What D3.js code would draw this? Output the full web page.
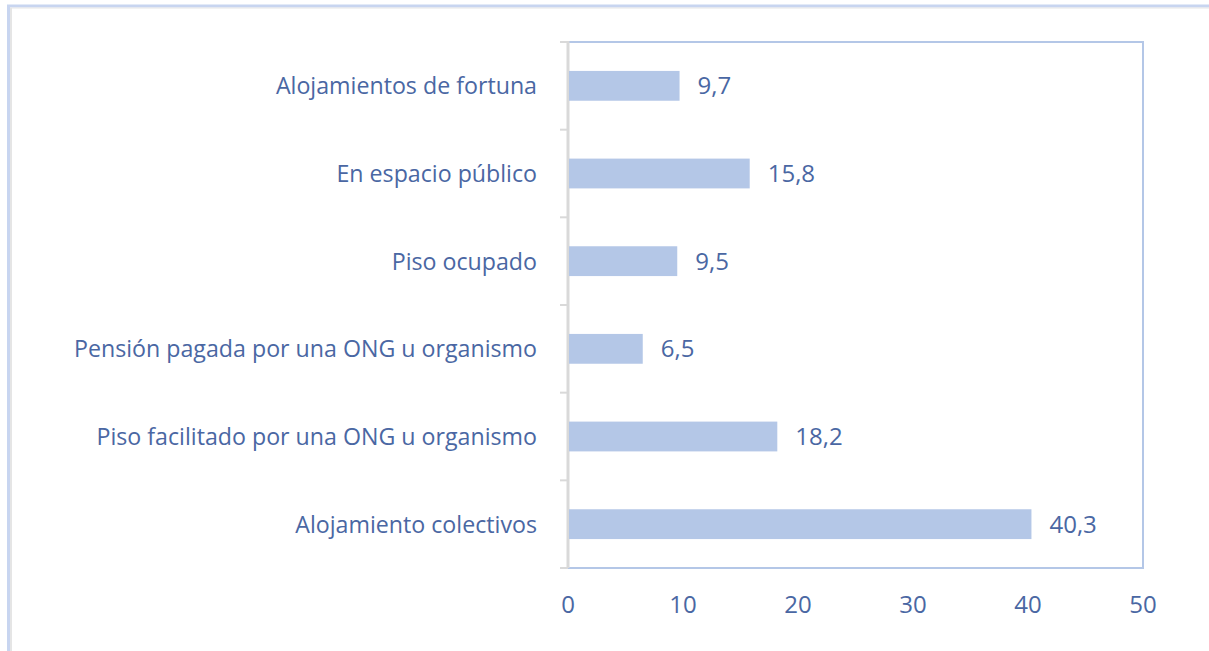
<!DOCTYPE html>
<html>
<head>
<meta charset="utf-8">
<script src="https://cdn.jsdelivr.net/npm/d3@7"></script>
<style>
	body { margin: 0; background: #fff; }
	text { font-family: "Open Sans", sans-serif; fill: #4a67a3; }
</style>
</head>
<body>
<div id="chart"></div>
<script>
	// data, top to bottom
	var categories = ["Alojamientos de fortuna", "En espacio público", "Piso ocupado",
		"Pensión pagada por una ONG u organismo", "Piso facilitado por una ONG u organismo",
		"Alojamiento colectivos"];
	var values = [9.7, 15.8, 9.5, 6.5, 18.2, 40.3];
	var xTicks = [0, 10, 20, 30, 40, 50];

	var width = 1209;
	var height = 651;
	var margin = {top: 42, right: 66, bottom: 83, left: 568};
	var figw = width - margin.left - margin.right;
	var figh = height - margin.top - margin.bottom;

	var barColor = "#b4c7e7";
	var catSize = 23.2;
	var numSize = 24;

	var svg = d3.select("#chart").append("svg")
		.attr("width", width)
		.attr("height", height);

	// outer frame (top and left edges only)
	svg.append("line")
		.attr("x1", 7).attr("y1", 6).attr("x2", width).attr("y2", 6)
		.style("stroke", "#c8d5f0").style("stroke-width", 3);
	svg.append("line")
		.attr("x1", 8.5).attr("y1", 5).attr("x2", 8.5).attr("y2", height)
		.style("stroke", "#c8d5f0").style("stroke-width", 3);
	svg.append("line")
		.attr("x1", 11).attr("y1", 8).attr("x2", 11).attr("y2", height)
		.style("stroke", "#dcdcdc").style("stroke-width", 1.5);
	svg.append("line")
		.attr("x1", 10).attr("y1", 8).attr("x2", width).attr("y2", 8)
		.style("stroke", "#e6e6e6").style("stroke-width", 1);

	var x = d3.scaleLinear()
		.domain([0, 50])
		.range([margin.left, margin.left + figw]);
	var y = d3.scaleBand()
		.domain(categories)
		.range([margin.top, margin.top + figh])
		.paddingInner(0.66)
		.paddingOuter(0.33);

	// plot border
	svg.append("rect")
		.attr("x", margin.left)
		.attr("y", margin.top)
		.attr("width", figw)
		.attr("height", figh)
		.style("fill", "none")
		.style("stroke", barColor)
		.style("stroke-width", 2);

	// category tick marks on the left axis
	var step = figh / categories.length;
	for(var i = 0; i <= categories.length; i++) {
		svg.append("line")
			.attr("x1", margin.left - 8)
			.attr("x2", margin.left)
			.attr("y1", margin.top + i*step)
			.attr("y2", margin.top + i*step)
			.style("stroke", "#d9d9d9")
			.style("stroke-width", 2);
	}
	svg.append("line")
		.attr("x1", margin.left).attr("x2", margin.left)
		.attr("y1", margin.top - 1).attr("y2", margin.top + figh)
		.style("stroke", "#d9d9d9")
		.style("stroke-width", 3);

	svg.selectAll(".bar")
		.data(values)
		.enter().append("rect")
		.attr("class", "bar")
		.attr("x", x(0) + 1)
		.attr("y", function(d, i) { return y(categories[i]); })
		.attr("width", function(d) { return x(d) - x(0) - 1; })
		.attr("height", y.bandwidth())
		.style("fill", barColor);

	svg.selectAll(".val")
		.data(values)
		.enter().append("text")
		.attr("class", "val")
		.attr("x", function(d) { return x(d) + 18; })
		.attr("y", function(d, i) { return y(categories[i]) + y.bandwidth()/2; })
		.attr("dy", "0.36em")
		.style("font-size", numSize + "px")
		.text(function(d) { return d3.format(".1f")(d).replace(".", ","); });

	svg.selectAll(".cat")
		.data(categories)
		.enter().append("text")
		.attr("class", "cat")
		.attr("x", 537)
		.attr("y", function(d) { return y(d) + y.bandwidth()/2; })
		.attr("dy", "0.36em")
		.style("text-anchor", "end")
		.style("font-size", catSize + "px")
		.text(function(d) { return d; });

	svg.selectAll(".xtick")
		.data(xTicks)
		.enter().append("text")
		.attr("class", "xtick")
		.attr("x", function(d) { return x(d); })
		.attr("y", margin.top + figh + 36)
		.attr("dy", "0.36em")
		.style("text-anchor", "middle")
		.style("font-size", numSize + "px")
		.text(function(d) { return d; });
</script>
</body>
</html>
